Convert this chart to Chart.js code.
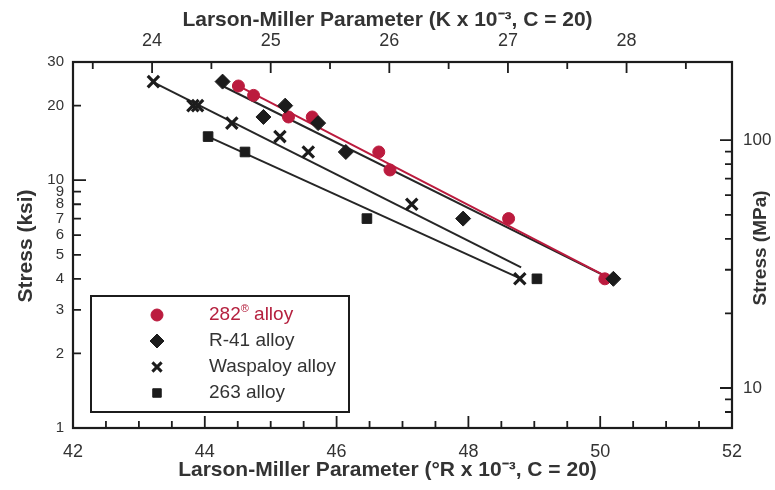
<!DOCTYPE html>
<html><head><meta charset="utf-8">
<script src="https://cdn.jsdelivr.net/npm/chart.js@4.4.0/dist/chart.umd.min.js"></script>
<style>html,body{margin:0;padding:0;background:#fff;}#wrap{position:relative;width:775px;height:490px;}</style>
</head><body><div id="wrap"><canvas id="c"></canvas></div>
<script>
// ---- tick labels ----
const bottomTickLabels = [42, 44, 46, 48, 50, 52];
const topTickLabels = [24, 25, 26, 27, 28];
const leftTickLabels = [1, 2, 3, 4, 5, 6, 7, 8, 9, 10, 20, 30];
const rightTickLabels = [10, 100];
const rightMinorTicks = [8, 9, 20, 30, 40, 50, 60, 70, 80, 90];

// ---- axis titles ----
const titleTop = 'Larson-Miller Parameter (K x 10⁻³, C = 20)';
const titleBottom = 'Larson-Miller Parameter (°R x 10⁻³, C = 20)';
const titleLeft = 'Stress (ksi)';
const titleRight = 'Stress (MPa)';

// ---- series ----
const seriesNames = ['282® alloy', 'R-41 alloy', 'Waspaloy alloy', '263 alloy'];
const lmp282 = [44.51, 44.74, 45.27, 45.63, 46.64, 46.81, 48.61, 50.07];
const stress282 = [24, 22, 18, 18, 13, 11, 7, 4];
const lmpR41 = [44.27, 44.89, 45.22, 45.72, 46.14, 47.92, 50.2];
const stressR41 = [25, 18, 20, 17, 13, 7, 4];
const lmpWasp = [43.22, 43.82, 43.89, 44.41, 45.14, 45.57, 47.14, 48.78];
const stressWasp = [25, 20, 20, 17, 15, 13, 8, 4];
const lmp263 = [44.05, 44.61, 46.46, 49.04];
const stress263 = [15, 13, 7, 4];

// ---- fitted trend lines (end points) ----
const fit282X = [44.45, 50.12];
const fit282Y = [24.5, 4.05];
const fitR41X = [44.27, 50.2];
const fitR41Y = [24.0, 3.95];
const fitWaspX = [43.2, 48.8];
const fitWaspY = [25, 4.45];
const fit263X = [44.05, 48.8];
const fit263Y = [15, 4.0];

const KSI_TO_MPA = 6.89476;
const RED = '#bb1b3e';
const BLK = '#1c1c1c';
const TXT = '#333333';
const FONT = "'Liberation Sans', Arial, sans-serif";

const pts = (xs, ys) => xs.map((x, i) => ({x: x, y: ys[i]}));

const markerStyles = [
  {pointStyle: 'circle', radius: 6, color: RED, bw: 1},
  {pointStyle: 'rectRot', radius: 7.5, color: BLK, bw: 1},
  {pointStyle: 'crossRot', radius: 8, color: BLK, bw: 3.2},
  {pointStyle: 'rect', radius: 6.8, color: BLK, bw: 1}
];

function scatterSet(label, xs, ys, m) {
  return {
    type: 'scatter', label: label, data: pts(xs, ys),
    pointStyle: m.pointStyle, pointRadius: m.radius, pointHoverRadius: m.radius,
    backgroundColor: m.color, borderColor: m.color, pointBorderWidth: m.bw,
    showLine: false
  };
}
function lineSet(xs, ys, color) {
  return {
    type: 'line', label: '', data: pts(xs, ys), borderColor: color, borderWidth: 2,
    pointRadius: 0, fill: false, tension: 0
  };
}

const datasets = [
  scatterSet(seriesNames[1], lmpR41, stressR41, markerStyles[1]),
  scatterSet(seriesNames[0], lmp282, stress282, markerStyles[0]),
  scatterSet(seriesNames[2], lmpWasp, stressWasp, markerStyles[2]),
  scatterSet(seriesNames[3], lmp263, stress263, markerStyles[3]),
  lineSet(fit282X, fit282Y, RED),
  lineSet(fitR41X, fitR41Y, '#262626'),
  lineSet(fitWaspX, fitWaspY, '#262626'),
  lineSet(fit263X, fit263Y, '#262626')
];

const frameTicks = {
  id: 'frameTicks',
  afterDatasetsDraw(chart) {
    const {ctx, chartArea: a, scales} = chart;
    ctx.save();
    ctx.strokeStyle = BLK;
    ctx.lineWidth = 1.8;
    ctx.beginPath();
    for (let v = 42; v <= 52.0001; v += 0.5) {
      const p = scales.x.getPixelForValue(v);
      const L = bottomTickLabels.some(t => Math.abs(t - v) < 1e-6) ? 12 : 7;
      ctx.moveTo(p, a.bottom); ctx.lineTo(p, a.bottom - L);
    }
    for (let k = 23.5; k <= 28.8; k += 0.5) {
      const p = scales.xTop.getPixelForValue(k);
      if (p < a.left + 1 || p > a.right - 1) continue;
      const L = topTickLabels.some(t => Math.abs(t - k) < 1e-6) ? 11 : 7;
      ctx.moveTo(p, a.top); ctx.lineTo(p, a.top + L);
    }
    leftTickLabels.forEach(v => {
      const p = scales.y.getPixelForValue(v);
      const L = v === 10 ? 13 : 8;
      ctx.moveTo(a.left, p); ctx.lineTo(a.left + L, p);
    });
    rightTickLabels.concat(rightMinorTicks).forEach(v => {
      const p = scales.y2.getPixelForValue(v);
      if (p < a.top || p > a.bottom) return;
      const L = rightTickLabels.includes(v) ? 12 : 7;
      ctx.moveTo(a.right, p); ctx.lineTo(a.right - L, p);
    });
    ctx.stroke();
    ctx.lineWidth = 2.2;
    ctx.strokeRect(a.left, a.top, a.right - a.left, a.bottom - a.top);
    ctx.restore();
  },
  afterDraw(chart) {
    const {ctx, chartArea: a, width: W} = chart;
    ctx.save();
    ctx.fillStyle = TXT;
    ctx.textAlign = 'center'; ctx.textBaseline = 'middle';
    ctx.font = 'bold 21px ' + FONT;
    ctx.fillText(titleTop, W / 2, 20);
    ctx.fillText(titleBottom, W / 2, 470);
    ctx.save();
    ctx.translate(26, (a.top + a.bottom) / 2 + 1);
    ctx.rotate(-Math.PI / 2);
    ctx.fillText(titleLeft, 0, 0);
    ctx.restore();
    ctx.save();
    ctx.font = 'bold 19px ' + FONT;
    ctx.translate(761, (a.top + a.bottom) / 2 + 3);
    ctx.rotate(-Math.PI / 2);
    ctx.fillText(titleRight, 0, 0);
    ctx.restore();

    // legend
    const bx = a.left + 18, by = a.top + 234, bw = 258, bh = 116;
    ctx.fillStyle = '#fff';
    ctx.fillRect(bx, by, bw, bh);
    ctx.strokeStyle = BLK; ctx.lineWidth = 2;
    ctx.strokeRect(bx, by, bw, bh);
    const mx = bx + 66, tx = bx + 118;
    seriesNames.forEach((name, i) => {
      const yy = by + 19 + i * 26;
      const m = markerStyles[i];
      ctx.fillStyle = m.color; ctx.strokeStyle = m.color;
      ctx.lineWidth = m.pointStyle === 'crossRot' ? 3 : 1;
      const r = m.pointStyle === 'crossRot' ? 6.5 : (m.pointStyle === 'rectRot' ? 7 : 6);
      Chart.helpers.drawPoint(ctx, {pointStyle: m.pointStyle, radius: r, borderWidth: ctx.lineWidth}, mx, yy);
      ctx.textBaseline = 'middle'; ctx.textAlign = 'left';
      ctx.fillStyle = i === 0 ? '#b5213f' : TXT;
      if (name.indexOf('®') >= 0) {
        const parts = name.split('®');
        ctx.font = '19px ' + FONT;
        ctx.fillText(parts[0], tx, yy);
        let w = ctx.measureText(parts[0]).width;
        ctx.font = '11px ' + FONT;
        ctx.fillText('®', tx + w, yy - 6);
        w += ctx.measureText('®').width;
        ctx.font = '19px ' + FONT;
        ctx.fillText(parts[1], tx + w, yy);
      } else {
        ctx.font = '19px ' + FONT;
        ctx.fillText(name, tx, yy);
      }
    });
    ctx.restore();
  }
};

new Chart(document.getElementById('c'), {
  data: {datasets: datasets},
  options: {
    responsive: true, maintainAspectRatio: false, animation: false,
    layout: {padding: 0},
    plugins: {legend: {display: false}, tooltip: {enabled: false}},
    scales: {
      x: {
        type: 'linear', position: 'bottom', min: 42, max: 52,
        afterBuildTicks: s => { s.ticks = bottomTickLabels.map(v => ({value: v})); },
        afterFit: s => { s.height = 62; },
        grid: {display: false, drawTicks: false}, border: {display: false},
        ticks: {font: {family: FONT, size: 18}, color: TXT, padding: 13, autoSkip: false, maxRotation: 0},
        title: {display: false}
      },
      xTop: {
        type: 'linear', position: 'top', min: 42 / 1.8, max: 52 / 1.8,
        afterBuildTicks: s => { s.ticks = topTickLabels.map(v => ({value: v})); },
        afterFit: s => { s.height = 62; },
        grid: {display: false, drawTicks: false}, border: {display: false},
        ticks: {font: {family: FONT, size: 18}, color: TXT, padding: 10, autoSkip: false, maxRotation: 0},
        title: {display: false}
      },
      y: {
        type: 'logarithmic', position: 'left', min: 1, max: 30,
        afterBuildTicks: s => { s.ticks = leftTickLabels.map(v => ({value: v})); },
        afterFit: s => { s.width = 73; },
        grid: {display: false, drawTicks: false}, border: {display: false},
        ticks: {font: {family: FONT, size: 15}, color: TXT, padding: 9, autoSkip: false, callback: v => String(v)},
        title: {display: false}
      },
      y2: {
        type: 'logarithmic', position: 'right', min: 1 * KSI_TO_MPA, max: 30 * KSI_TO_MPA,
        afterBuildTicks: s => { s.ticks = rightTickLabels.map(v => ({value: v})); },
        afterFit: s => { s.width = 43; },
        grid: {display: false, drawTicks: false}, border: {display: false},
        ticks: {font: {family: FONT, size: 17}, color: TXT, padding: 11, autoSkip: false, callback: v => String(v)},
        title: {display: false}
      }
    }
  },
  plugins: [frameTicks]
});
</script>
</body></html>
